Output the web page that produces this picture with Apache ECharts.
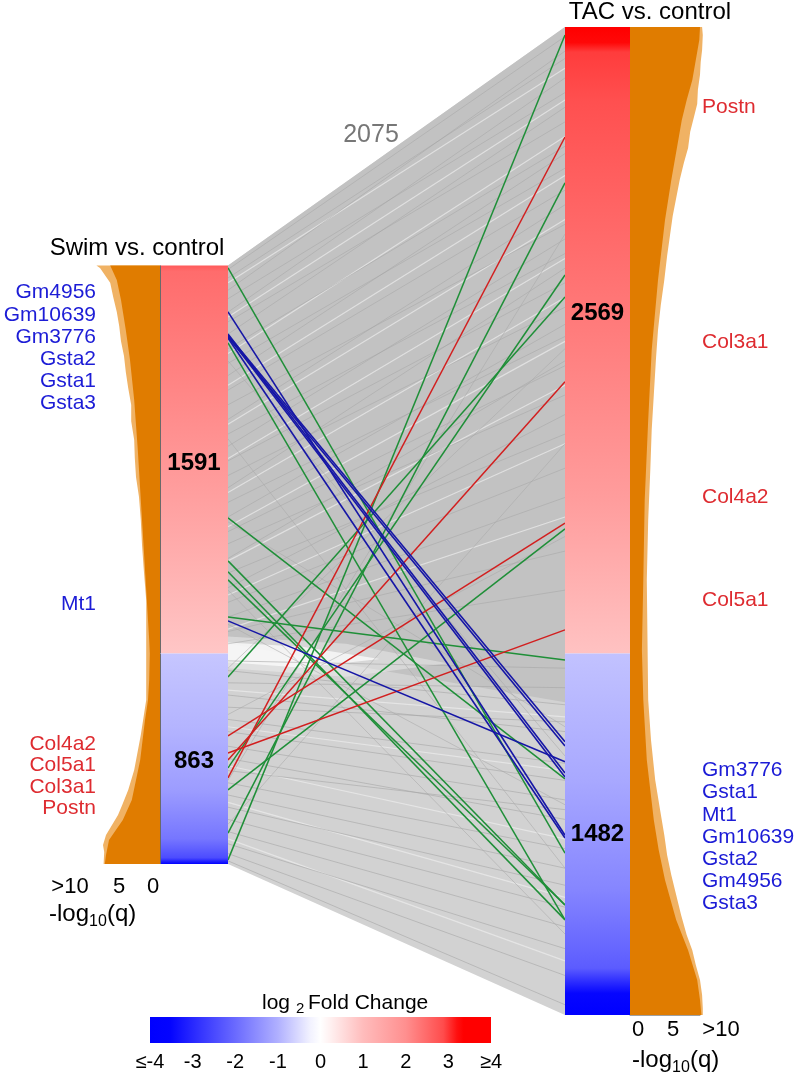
<!DOCTYPE html>
<html><head><meta charset="utf-8">
<script src="https://cdn.jsdelivr.net/npm/echarts@6/dist/echarts.min.js"></script>
<style>html,body{margin:0;padding:0;background:#fff}#c{width:798px;height:1076px}</style>
</head><body><div id="c"></div>
<script>
// ---------------- DATA ----------------
const swimUp = 1591, swimDown = 863, tacUp = 2569, tacDown = 1482, commonGenes = 2075;

// highlighted genes: rank position (signed, from up/down split) in each bar
const blueGenes     = ['Gm4956','Gm10639','Gm3776','Gsta2','Gsta1','Gsta3','Mt1'];
const blueSwimRank  = [1401, 1310, 1306, 1302, 1298, 1294, 134];
const blueTacRank   = [-745, -490, -362, -506, -379, -756, -444];
const redGenes      = ['Col4a2','Col5a1','Col3a1','Postn'];
const redSwimRank   = [-338, -408, -436, -510];
const redTacRank    = [535, 97, 1114, 2118];
const greenSwimRank = [1581, 1274, 556, 380, 335, 302, 150, -96, -469, -559, -736, -846];
const greenTacRank  = [-818, -1092, -514, -1031, -1092, -1031, -26, 1462, 1552, 511, 1930, 2536];

// sample of the common-gene connections (gray mesh)
const grayUpSwim   = [1575,1540,1490,1455,1400,1360,1310,1250,1190,1140,1080,1020,960,900,850,790,730,680,620,560,500,450,390,330,270,210,150,90,40];
const grayUpTac    = [2530,2440,2470,2300,2360,2180,2240,2080,1990,2050,1900,1760,1840,1640,1700,1520,1420,1580,1300,1350,1180,1060,1200,900,980,760,640,420,260];
const grayDownSwim = [-30,-70,-120,-170,-220,-270,-320,-380,-430,-480,-530,-580,-630,-680,-730,-780,-820,-850];
const grayDownTac  = [-60,-210,-140,-320,-280,-450,-520,-600,-680,-640,-800,-880,-950,-1040,-1120,-1210,-1320,-1440];
const grayCrossSwim= [1200,880,540,260,120,-60,-250,-520,-700];
const grayCrossTac = [-420,-880,-300,-1150,-620,1250,480,1720,860];
const lightSwim    = [1520,1380,1230,1100,940,800,660,520,380,240,100,-150,-300,-460,-610,-760];
const lightTac     = [2400,2270,2120,1960,1780,1620,1460,1280,1100,860,560,-260,-480,-760,-1000,-1260];

// -log10(q) profiles along each bar (solid body)
const swimQRank   = [1591,1532,1450,1327,1204,1040,835,630,425,220,56,0,-108,-190,-272,-436,-600,-682,-764,-826,-863];
const swimQ       = [8.3,7.2,6.5,5.7,5.0,4.3,3.7,3.2,2.7,2.2,1.8,1.7,1.8,2.0,2.5,3.3,4.7,6.2,8.5,9.0,9.2];
const tacQRank    = [2569,2516,2434,2352,2270,2188,2106,1942,1778,1532,1245,958,630,302,15,-190,-436,-682,-805,-928,-1092,-1216,-1339,-1421,-1482];
const tacQ        = [10,9.9,9.4,8.9,8.1,7.4,6.9,5.9,5.0,4.0,3.1,2.6,2.1,1.9,1.7,1.9,2.4,3.4,4.1,5.0,6.6,8.3,9.6,10,10.2];
// outer reach of the longest individual genes (light fringe)
const swimSpikeRank = [1591,1581,1520,1462,1400,1343,1281,1220,1154,1089,1019,953,876,802,724,642,548,446,343,220,-190,-334,-477,-559,-621,-662,-703,-744,-785,-814,-863];
const swimSpike     = [10.6,10.0,8.3,7.8,7.2,6.8,6.5,6.0,5.7,5.3,4.8,4.8,4.3,4.2,4.0,3.5,3.2,3.0,2.7,2.3,2.3,3.2,4.3,5.3,6.3,7.0,8.0,9.0,9.5,9.3,9.4];
const tacSpikeRank  = [2569,2536,2475,2426,2373,2312,2253,2196,2139,2073,2012,1942,1868,1794,1712,1630,1532,1429,1327,1204,1060,917,753,548,302,-190,-354,-518,-641,-744,-826,-908,-990,-1072,-1154,-1216,-1277,-1339,-1400,-1454,-1482];
const tacSpike      = [10.3,10.4,10.3,10.1,10,9.7,9.6,9.1,8.6,8.3,7.7,7.1,6.6,6.1,5.7,5.3,4.9,4.4,4.0,3.7,3.4,3.1,2.9,2.6,2.4,2.6,3.0,3.6,4.3,4.9,5.3,5.9,6.6,7.3,8.1,8.9,9.4,10,10.3,10.4,10.4];

const qTickLabels  = ['>10','5','0'];
const fcTickLabels = ['\u2264-4','-3','-2','-1','0','1','2','3','\u22654'];

// ---------------- STYLE ----------------
const FONT = '"Liberation Sans", Arial, Helvetica, sans-serif';
const BLUE_T = '#1c1cd6', RED_T = '#de2b30', ORANGE = '#e07c00', ORANGE_L = '#f0b264';
const chart = echarts.init(document.getElementById('c'), null, {renderer:'canvas'});

const grids = [
  {left:228, top:27, width:337, height:988},  // connections
  {left:160, top:27, width:68,  height:988},  // swim bar
  {left:565, top:27, width:65,  height:988},  // tac bar
  {left:100, top:27, width:60,  height:988},  // swim -log q
  {left:630, top:27, width:70,  height:988}   // tac -log q
];
const xAxes = [
  {gridIndex:0, type:'value', min:0, max:1, show:false},
  {gridIndex:1, type:'value', min:0, max:1, show:false},
  {gridIndex:2, type:'value', min:0, max:1, show:false},
  {gridIndex:3, type:'value', min:0, max:10, inverse:true, show:false},
  {gridIndex:4, type:'value', min:0, max:10, show:true, axisLine:{onZero:false, lineStyle:{color:'#a0a0a0', width:1}},
   axisTick:{show:false}, axisLabel:{show:false}, splitLine:{show:false}}
];
const yAxes = grids.map((g,i)=>({gridIndex:i, type:'value', min:-tacDown, max:tacUp, show:false}));

function poly(ai, pts, style, z){
  return {type:'custom', xAxisIndex:ai, yAxisIndex:ai, data:[0], silent:true, z:z,
    renderItem:(p, api)=>({type:'polygon', shape:{points:pts.map(q=>api.coord(q))}, style:style})};
}
function segs(a, b){ return a.map((v,i)=>({coords:[[0,v],[1,b[i]]]})); }
function linesSeries(data, color, width, opacity, z){
  return {type:'lines', coordinateSystem:'cartesian2d', xAxisIndex:0, yAxisIndex:0, silent:true, z:z,
    data:data, lineStyle:{color:color, width:width, opacity:opacity}};
}
const G = echarts.graphic.LinearGradient;
const barStops = {
  swimUp:   [[0,'#ff5a5a'],[0.015,'#ff6c6c'],[0.3,'#ff8484'],[0.65,'#ffa4a4'],[1,'#ffc6c6']],
  swimDown: [[0,'#c6c6ff'],[0.35,'#b4b4ff'],[0.65,'#9c9cff'],[0.88,'#7676ff'],[0.97,'#4c4cff'],[1,'#0000ff']],
  tacUp:    [[0,'#ff0000'],[0.025,'#ff0808'],[0.04,'#ff3c3c'],[0.12,'#ff5050'],[0.45,'#ff7878'],[0.75,'#ff9c9c'],[1,'#ffc2c2']],
  tacDown:  [[0,'#c2c2ff'],[0.35,'#a8a8ff'],[0.65,'#8686ff'],[0.87,'#5c5cff'],[0.91,'#2a2aff'],[0.94,'#0606ff'],[1,'#0000ff']]
};
function barSeries(ai, up, down, kUp, kDown, labelFrac, leftBorder){
  return {type:'custom', xAxisIndex:ai, yAxisIndex:ai, silent:true, z:5,
    data:[[up, 0, up], [0, -down, down]],
    renderItem:(p, api)=>{
      const top = api.value(0), bot = api.value(1), n = api.value(2);
      const p1 = api.coord([0, top]), p2 = api.coord([1, bot]);
      const stops = p.dataIndex === 0 ? barStops[kUp] : barStops[kDown];
      const frac = labelFrac[p.dataIndex];
      const kids = [
        {type:'rect', shape:{x:p1[0], y:p1[1], width:p2[0]-p1[0], height:p2[1]-p1[1]},
         style:{fill:new G(0,0,0,1, stops.map(s=>({offset:s[0], color:s[1]})))}},
        {type:'text', style:{text:String(n), x:(p1[0]+p2[0])/2, y:p1[1]+(p2[1]-p1[1])*frac,
          align:'center', verticalAlign:'middle', fontSize:24, fontWeight:'bold', fontFamily:FONT, fill:'#000'}}
      ];
      if (leftBorder) kids.push({type:'line', shape:{x1:p1[0]+0.5, y1:p1[1], x2:p1[0]+0.5, y2:p2[1]}, style:{stroke:'#6a6a6a', lineWidth:1}});
      return {type:'group', children:kids};
    }};
}
function histPts(rank, val){
  return [[0, rank[0]]].concat(rank.map((r,i)=>[val[i], r])).concat([[0, rank[rank.length-1]]]);
}

const series = [
  // gray mesh background
  poly(0, [[0,swimUp],[1,tacUp],[1,-tacDown],[0,-swimDown]], {fill:'#d2d2d2'}, 1),
  poly(0, [[0,swimUp],[1,tacUp],[1,-200],[0,40]], {fill:'#c2c2c2'}, 1),
  poly(0, [[0,70],[0.35,40],[0.65,-40],[0.35,-95],[0,-60]], {fill:'#f2f2f2', opacity:0.45}, 1),
  poly(0, [[0,45],[0.22,28],[0.45,-22],[0.22,-58],[0,-36]], {fill:'#fafafa', opacity:0.8}, 1),
  linesSeries(segs(lightSwim, lightTac), '#ececec', 1.2, 0.7, 2),
  linesSeries(segs(grayUpSwim, grayUpTac), '#a2a2a2', 0.8, 0.6, 2),
  linesSeries(segs(grayDownSwim, grayDownTac), '#a6a6a6', 0.8, 0.75, 2),
  linesSeries(segs(grayCrossSwim, grayCrossTac), '#a8a8a8', 0.8, 0.7, 2),
  // highlighted genes
  linesSeries(segs(greenSwimRank, greenTacRank), '#1f8f38', 1.5, 1, 3),
  linesSeries(segs(redSwimRank, redTacRank), '#d21f1f', 1.5, 1, 3),
  linesSeries(segs(blueSwimRank, blueTacRank), '#1616a6', 1.6, 1, 4),
  // bars
  barSeries(1, swimUp, swimDown, 'swimUp', 'swimDown', [0.51, 0.51], true),
  barSeries(2, tacUp, tacDown, 'tacUp', 'tacDown', [0.457, 0.5], false),
  // -log10(q) profiles
  poly(3, histPts(swimSpikeRank, swimSpike), {fill:ORANGE_L}, 3),
  poly(3, histPts(swimQRank, swimQ), {fill:ORANGE}, 4),
  poly(4, histPts(tacSpikeRank, tacSpike), {fill:ORANGE_L}, 3),
  poly(4, histPts(tacQRank, tacQ), {fill:ORANGE}, 4)
];

// ---------------- TEXT ----------------
function T(text, x, y, size, color, align){
  return {type:'text', x:x, y:y, silent:true, z:100,
    style:{text:text, fontSize:size, fontFamily:FONT, fill:color||'#000', align:align||'center', verticalAlign:'middle',
           textAlign:align||'center', textVerticalAlign:'middle'}};
}
const gfx = [];
gfx.push(T('Swim vs. control', 137, 248, 24));
gfx.push(T('TAC vs. control', 650, 12, 24));
gfx.push(T(String(commonGenes), 371, 135, 25, '#777777'));

const leftBlueY = [292, 315, 337, 359, 381, 403, 604];
blueGenes.forEach((g,i)=>gfx.push(T(g, 96, leftBlueY[i], 21, BLUE_T, 'right')));
const leftRedOrder = ['Col4a2','Col5a1','Col3a1','Postn'];
const leftRedY = [744, 765, 787, 808];
leftRedOrder.forEach((g,i)=>gfx.push(T(g, 96, leftRedY[i], 21, RED_T, 'right')));

const rightRedOrder = ['Postn','Col3a1','Col4a2','Col5a1'];
const rightRedY = [107, 342, 497, 600];
rightRedOrder.forEach((g,i)=>gfx.push(T(g, 702, rightRedY[i], 21, RED_T, 'left')));
const rightBlueOrder = ['Gm3776','Gsta1','Mt1','Gm10639','Gsta2','Gm4956','Gsta3'];
const rightBlueY = [770, 792, 815, 837, 859, 881, 903];
rightBlueOrder.forEach((g,i)=>gfx.push(T(g, 702, rightBlueY[i], 21, BLUE_T, 'left')));

// q axis labels
const leftQX = [70, 119, 153];
qTickLabels.forEach((t,i)=>gfx.push(T(t, leftQX[i], 887, 22)));
const rightQX = [638, 673, 721];
qTickLabels.slice().reverse().forEach((t,i)=>gfx.push(T(t, rightQX[i], 1030, 22)));
function logq(x0, y){
  gfx.push(T('-log', x0, y, 24, '#000', 'left'));
  gfx.push(T('10', x0+40, y+8, 16, '#000', 'left'));
  gfx.push(T('(q)', x0+58, y, 24, '#000', 'left'));
}
logq(49, 914);
logq(632, 1060);

// colour bar
const cbX = 150, cbW = 341, cbY = 1017, cbH = 26;
gfx.push({type:'rect', shape:{x:cbX, y:cbY, width:cbW, height:cbH}, silent:true, z:90,
  style:{fill:new G(0,0,1,0,[
    {offset:0, color:'#0000ff'},{offset:0.06, color:'#0404ff'},{offset:0.14, color:'#3030ff'},{offset:0.25, color:'#6a6aff'},
    {offset:0.375, color:'#b0b0ff'},{offset:0.47, color:'#f2f2ff'},{offset:0.5, color:'#ffffff'},{offset:0.53, color:'#fff0f0'},
    {offset:0.625, color:'#ffbcbc'},{offset:0.75, color:'#ff8f8f'},{offset:0.86, color:'#ff4c4c'},{offset:0.9, color:'#ff1010'},
    {offset:0.92, color:'#ff0000'},{offset:1, color:'#ff0000'}])}});
fcTickLabels.forEach((t,i)=>gfx.push(T(t, cbX + i*cbW/8, 1062, 20)));
gfx.push(T('log', 262, 1003, 21, '#000', 'left'));
gfx.push(T('2', 296, 1009, 15, '#000', 'left'));
gfx.push(T('Fold Change', 308, 1003, 21, '#000', 'left'));

chart.setOption({animation:false, backgroundColor:'#ffffff', grid:grids, xAxis:xAxes, yAxis:yAxes, series:series, graphic:{elements:gfx}});
</script></body></html>
